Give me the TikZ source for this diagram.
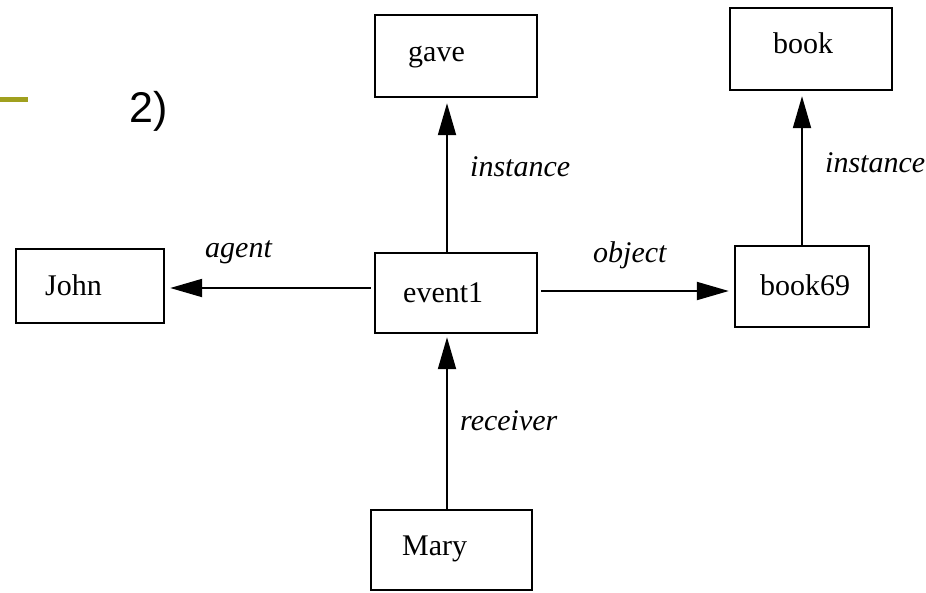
\documentclass[tikz,border=0pt]{standalone}
\usepackage{fontspec}
\setmainfont{Liberation Serif}
\newfontfamily\labelsans{Liberation Sans}
\usetikzlibrary{arrows.meta}
\definecolor{olivebar}{RGB}{160,160,30}
\begin{document}
\begin{tikzpicture}[x=1pt,y=-1pt,
  box/.style={draw, line width=2.4pt, inner sep=0pt},
  boxtext/.style={anchor=base west, inner sep=0pt, font=\fontsize{30}{36}\selectfont},
  rel/.style={anchor=base west, inner sep=0pt, font=\fontsize{30}{36}\selectfont\itshape},
  arr/.style={line width=2pt, -{Triangle[length=32pt,width=18pt]}, shorten >=5pt}]
\useasboundingbox (0,0) rectangle (926,592);
% olive bar and number
\draw[olivebar, line width=5pt] (0,99.5) -- (28,99.5);
\node[anchor=base west, inner sep=0pt, font=\labelsans\fontsize{43}{50}\selectfont] (num) at (129,122) {2)};
% boxes
\node[box, minimum width=162pt, minimum height=82pt] (gave) at (456,56) {};
\node[box, minimum width=162pt, minimum height=82pt] (book) at (811,49) {};
\node[box, minimum width=148pt, minimum height=74pt] (John) at (90,286) {};
\node[box, minimum width=162pt, minimum height=80pt] (event1) at (456,293) {};
\node[box, minimum width=134pt, minimum height=81pt] (book69) at (802,286.5) {};
\node[box, minimum width=161pt, minimum height=80pt] (Mary) at (451.5,550) {};
% box texts
\node[boxtext] (gavet) at (408,61) {gave};
\node[boxtext] (bookt) at (773,53) {book};
\node[boxtext] (Johnt) at (45,295) {John};
\node[boxtext] (event1t) at (403,302) {event1};
\node[boxtext] (book69t) at (760,295) {book69};
\node[boxtext] (Maryt) at (402,555) {Mary};
% connectors
\draw[arr] ([xshift=-9pt]event1.north) -- ([xshift=-9pt]gave.south);
\draw[arr] (book69.north) -- (book69.north |- book.south);
\draw[arr, shorten <=3pt] ([yshift=5pt]event1.west) -- ([yshift=5pt]event1.west -| John.east);
\draw[arr, shorten <=3pt] ([yshift=2pt]event1.east) -- ([yshift=2pt]event1.east -| book69.west);
\draw[arr, shorten >=3pt] ([xshift=-4.5pt]Mary.north) -- ([xshift=-9pt]event1.south);
% relation labels
\node[rel] (inst1) at (470,176) {instance};
\node[rel] (inst2) at (825,172) {instance};
\node[rel] (agent) at (205,257) {agent};
\node[rel] (object) at (593,262) {object};
\node[rel] (receiver) at (460,430) {receiver};
\end{tikzpicture}
\end{document}
